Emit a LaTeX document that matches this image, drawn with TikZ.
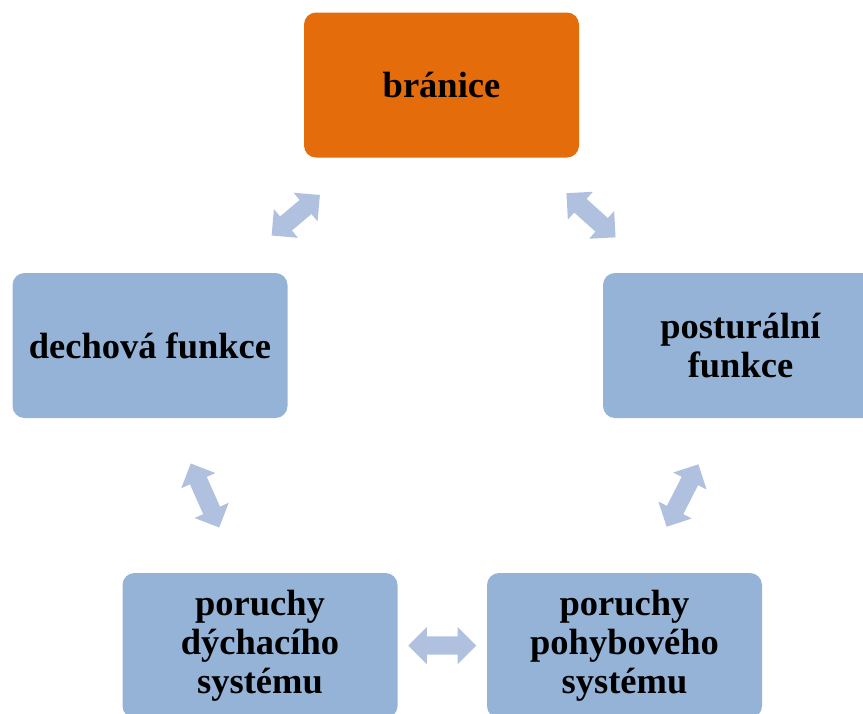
\documentclass[tikz,border=0pt]{standalone}
\usepackage{fontspec}
\setmainfont{Liberation Serif}
\usetikzlibrary{shapes.arrows,calc}
\definecolor{orangebox}{RGB}{228,108,10}
\definecolor{bluebox}{RGB}{149,179,215}
\definecolor{arrowblue}{RGB}{175,193,222}

\begin{document}
\begin{tikzpicture}[
  x=1pt, y=-1pt,
  box/.style={fill=bluebox, rounded corners=12pt, minimum width=275pt,
              minimum height=145pt, align=center, inner sep=4pt,
              font=\fontsize{36.5}{39}\selectfont\bfseries},
  topbox/.style={box, fill=orangebox},
  dblarr/.style={double arrow, fill=arrowblue, inner sep=9pt,
                 minimum width=37pt, double arrow head extend=9.5pt},
]
  \clip (0,0) rectangle (863,713);

  % --- Boxes ---
  \node[topbox] (branice)    at (441.5,85)    {bránice};
  \node[box]    (dechova)    at (150,345.5)   {dechová funkce};
  \node[box]    (posturalni) at (740.5,345.5) {posturální\\funkce};
  \node[box]    (dychaci)    at (260,645.5)   {poruchy\\dýchacího\\systému};
  \node[box]    (pohybovy)   at (624.5,645.5) {poruchy\\pohybového\\systému};

  % --- Double arrows between boxes ---
  \node[dblarr, minimum height=63pt, rotate=40]
    (a1) at ($(branice)!0.5!(dechova)$) {};
  \node[dblarr, minimum height=66pt, rotate=-42]
    (a2) at ($(branice)!0.5!(posturalni)$) {};
  \node[dblarr, minimum height=70pt, rotate=-66]
    (a3) at ($(dechova)!0.5!(dychaci)$) {};
  \node[dblarr, minimum height=70pt, rotate=63]
    (a4) at ($(posturalni)!0.5!(pohybovy)$) {};
  \node[dblarr, minimum height=68pt]
    (a5) at ($(dychaci)!0.5!(pohybovy)$) {};

\end{tikzpicture}
\end{document}
